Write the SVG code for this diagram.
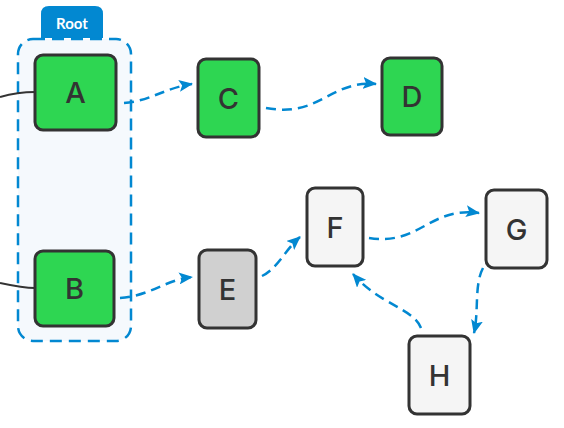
<svg xmlns="http://www.w3.org/2000/svg" width="564" height="428" viewBox="0 0 564 428">
<style>
.node rect{stroke:#333;stroke-width:3}
.node text{font-family:Inter,Lato,"Noto Sans",sans-serif;font-size:29px;font-weight:500;fill:#333;text-anchor:middle;dominant-baseline:central}
.green{fill:#2ed652}
.gray{fill:#d0d0d0}
.light{fill:#f5f5f5}
.edge{fill:none;stroke:#0288d1;stroke-width:2.5;stroke-dasharray:10 6;marker-end:url(#arr)}
.link{fill:none;stroke:#333;stroke-width:2}
</style>
<defs>
<marker id="arr" markerUnits="userSpaceOnUse" markerWidth="14" markerHeight="12" refX="13" refY="6" orient="auto">
<path d="M0,0 L14,6 L0,12 L3,6 z" fill="#0288d1"/>
</marker>
</defs>
<rect width="564" height="428" fill="#fff"/>
<g id="group-root">
<path d="M41,38 V14 Q41,6 49,6 H95 Q103,6 103,14 V38 Z" fill="#0288d1"/>
<text x="72" y="23" font-family="Lato,'Noto Sans',sans-serif" font-size="15" font-weight="bold" fill="#fff" text-anchor="middle" dominant-baseline="central">Root</text>
<rect x="18" y="39" width="113" height="302" rx="15" fill="#f5f9fd" stroke="#0288d1" stroke-width="2.5" stroke-dasharray="12 7"/>
</g>
<g id="connectors">
<path class="link" d="M0,97 C14,93 24,92 35,92"/>
<path class="link" d="M0,283 C14,286 24,288 35,288"/>
<path class="edge" d="M124,103 C150,101 165,88 192,84"/>
<path class="edge" d="M266,108 C320,118 330,80 376,84"/>
<path class="edge" d="M120,298 C150,296 165,280 192,277"/>
<path class="edge" d="M262,276 C278,268 285,250 300,237"/>
<path class="edge" d="M369,238 C420,246 430,206 479,213"/>
<path class="edge" d="M483,268 C474,285 479,312 474,333"/>
<path class="edge" d="M421,328 C413,308 380,305 353,274"/>
</g>
<g id="node-A" class="node"><rect class="green" x="35" y="55" width="81" height="75" rx="8"/><text x="75.5" y="92.5">A</text></g>
<g id="node-B" class="node"><rect class="green" x="35" y="251" width="79" height="75" rx="8"/><text x="74.5" y="288.5">B</text></g>
<g id="node-C" class="node"><rect class="green" x="198" y="59" width="61" height="78" rx="8"/><text x="228.5" y="98">C</text></g>
<g id="node-D" class="node"><rect class="green" x="382" y="58" width="60" height="77" rx="8"/><text x="412" y="96.5">D</text></g>
<g id="node-E" class="node"><rect class="gray" x="199" y="250" width="57" height="78" rx="8"/><text x="227.5" y="289">E</text></g>
<g id="node-F" class="node"><rect class="light" x="307" y="188" width="56" height="78" rx="8"/><text x="335" y="227">F</text></g>
<g id="node-G" class="node"><rect class="light" x="486" y="190" width="61" height="78" rx="8"/><text x="516.5" y="229">G</text></g>
<g id="node-H" class="node"><rect class="light" x="409" y="336" width="61" height="78" rx="8"/><text x="439.5" y="375">H</text></g>
</svg>
